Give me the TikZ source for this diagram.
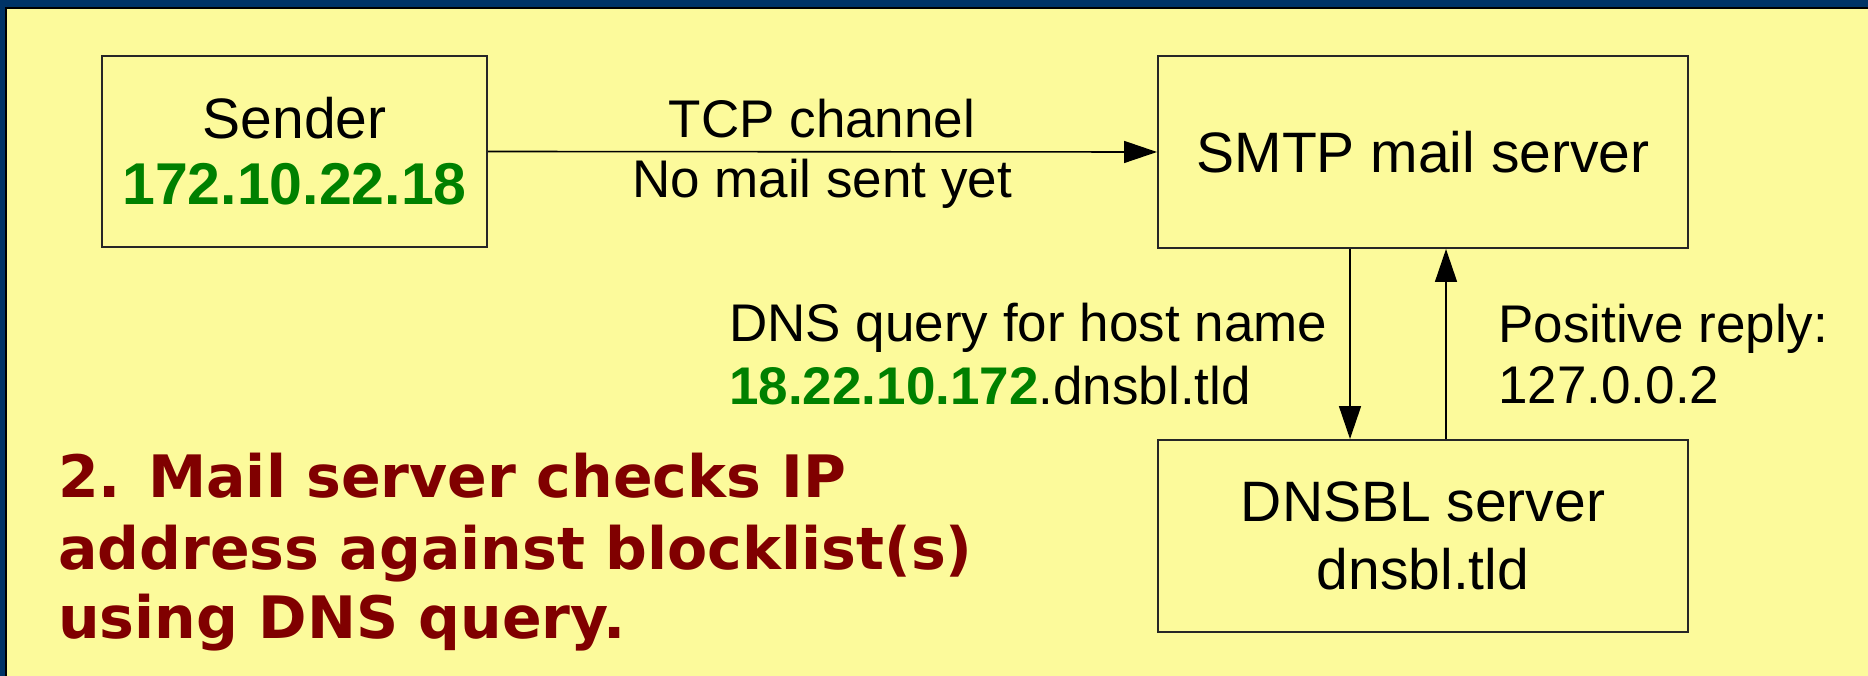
\documentclass[tikz,border=0pt]{standalone}
\usepackage{fontspec}
\setmainfont{Liberation Sans}
\newfontfamily\capfont{DejaVu Sans}
\usetikzlibrary{arrows.meta}
\definecolor{bgyellow}{RGB}{252,250,155}
\definecolor{frameblue}{RGB}{0,51,102}
\definecolor{ipgreen}{RGB}{0,128,0}
\definecolor{capred}{RGB}{128,0,0}
\begin{document}
\begin{tikzpicture}[x=1pt,y=-1pt,
  box/.style={draw=black!85, line width=2pt, fill=bgyellow, inner sep=0pt, align=center},
  big/.style={font=\fontsize{57}{68}\selectfont},
  lbl/.style={font=\fontsize{53}{63}\selectfont, inner sep=0pt},
  captext/.style={font=\capfont\bfseries\fontsize{58.5}{67}\selectfont, text=capred, inner sep=0pt, anchor=base west},
  conn/.style={line width=1.6pt, -{Triangle[length=33pt,width=22pt]}},
]
\useasboundingbox (0,0) rectangle (1868,676);
\fill[frameblue] (0,0) rectangle (1868,676);
\fill[bgyellow] (6,8) rectangle (1868,676);
\draw[black, line width=1.5pt] (6,676) -- (6,8) -- (1868,8);

\node[box, big, minimum width=385pt, minimum height=191pt] (sender) at (294.5,151.5)
  {Sender\\[-2pt]{\fontsize{59}{68}\selectfont\bfseries\color{ipgreen}172.10.22.18}};
\node[box, big, minimum width=530pt, minimum height=192pt] (smtp) at (1423,152) {SMTP mail server};
\node[box, big, minimum width=530pt, minimum height=192pt] (dnsbl) at (1423,536) {DNSBL server\\dnsbl.tld};

\draw[conn] (sender.east) -- (smtp.west);
\draw[conn] ([xshift=193pt]smtp.south west) -- ([xshift=193pt]dnsbl.north west);
\draw[conn] ([xshift=289pt]dnsbl.north west) -- ([xshift=289pt]smtp.south west);

\node[lbl, anchor=base] (tcp1) at (822,138) {TCP channel};
\node[lbl, anchor=base] (tcp2) at (822,198) {No mail sent yet};

\node[lbl, anchor=base west] (q1) at (729,341) {DNS query for host name};
\node[lbl, anchor=base west] (q2) at (729,404) {{\fontsize{53}{63}\selectfont\bfseries\color{ipgreen}18.22.10.172}.dnsbl.tld};

\node[lbl, anchor=base west] (r1) at (1498,342) {Positive reply:};
\node[lbl, anchor=base west] (r2) at (1498,403) {127.0.0.2};

\node[captext] (c1) at (58,497) {2. Mail server checks IP};
\node[captext] (c2) at (58,569) {address against blocklist(s)};
\node[captext] (c3) at (58,638) {using DNS query.};
\end{tikzpicture}
\end{document}
